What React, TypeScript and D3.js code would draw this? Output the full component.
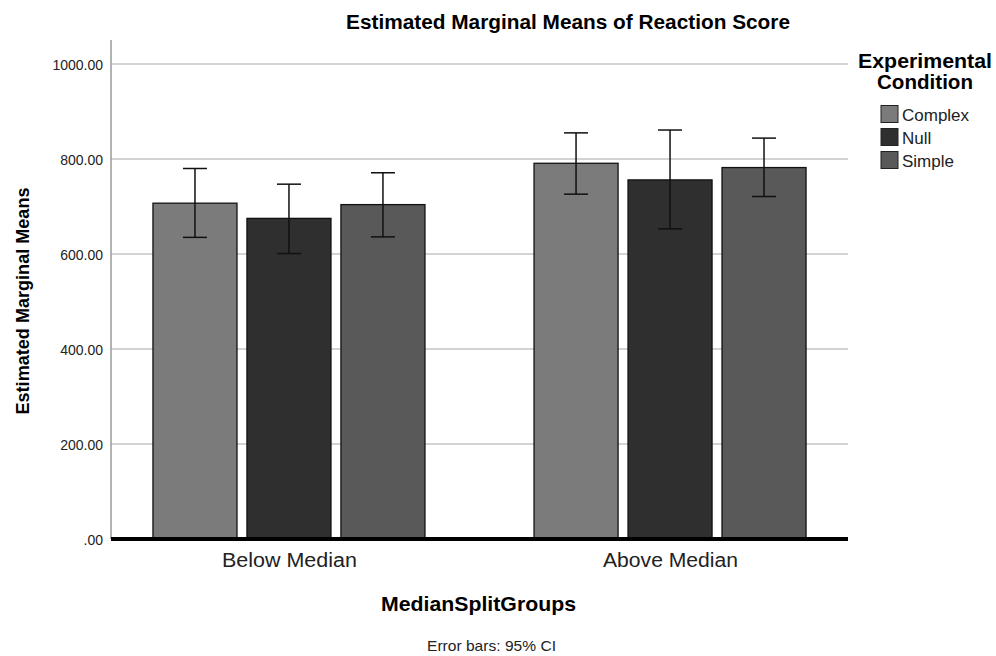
import * as d3 from "d3";

const groups = ["Below Median", "Above Median"];
const conditions = ["Complex", "Null", "Simple"];
const means = [
  [707, 675, 704],
  [791, 756, 782],
];
const ciLow = [
  [635, 601, 636],
  [726, 653, 721],
];
const ciHigh = [
  [780, 747, 771],
  [855, 861, 844],
];
const yTicks = [0, 200, 400, 600, 800, 1000];
const fills = ["#7b7b7b", "#2f2f2f", "#595959"];

const W = 996;
const H = 656;
const left = 111;
const right = 848;
const bottom = 539;
const font = "Liberation Sans, Arial, sans-serif";

const App = () => {
  const y = d3.scaleLinear().domain([0, 1000]).range([bottom, 64]);
  const x = d3.scalePoint().domain(groups).range([left, right]).padding(0.467);
  const sub = d3
    .scaleBand()
    .domain(conditions)
    .range([-136, 136])
    .paddingInner(0.106);

  const fmt = (v: number) => (v === 0 ? ".00" : v.toFixed(2));

  const rows = groups.flatMap((g, gi) =>
    conditions.map((c, ci) => ({
      g,
      c,
      ci,
      mean: means[gi][ci],
      lo: ciLow[gi][ci],
      hi: ciHigh[gi][ci],
    }))
  );

  return (
    <svg width={W} height={H} style={{ position: "absolute", left: 0, top: 0, background: "#fff" }} fontFamily={font}>
      <rect width={W} height={H} fill="#fff" />
      <text x={568} y={29} textAnchor="middle" fontSize={20} fontWeight="bold" textLength={444} lengthAdjust="spacingAndGlyphs">
        Estimated Marginal Means of Reaction Score
      </text>

      {/* grid */}
      <g className="grid">
        {yTicks.filter((t) => t > 0).map((t) => (
          <line key={t} x1={left} x2={right} y1={y(t)} y2={y(t)} stroke="#c4c4c4" strokeWidth={1.3} />
        ))}
      </g>
      <line x1={left} x2={left} y1={40} y2={bottom} stroke="#9a9a9a" strokeWidth={1.5} />

      {yTicks.map((t) => (
        <text key={t} x={103} y={y(t) + 6} textAnchor="end" fontSize={14} fill="#222">
          {fmt(t)}
        </text>
      ))}

      <g className="bars">
        {rows.map((d, i) => {
          const bx = (x(d.g) as number) + (sub(d.c) as number);
          const bw = sub.bandwidth();
          const cx = bx + bw / 2;
          return (
            <g key={i}>
              <rect
                x={bx}
                y={y(d.mean)}
                width={bw}
                height={bottom - y(d.mean)}
                fill={fills[d.ci]}
                stroke="#111"
                strokeWidth={1.3}
              />
              <line x1={cx} x2={cx} y1={y(d.hi)} y2={y(d.lo)} stroke="#111" strokeWidth={1.5} />
              <line x1={cx - 12} x2={cx + 12} y1={y(d.hi)} y2={y(d.hi)} stroke="#111" strokeWidth={1.5} />
              <line x1={cx - 12} x2={cx + 12} y1={y(d.lo)} y2={y(d.lo)} stroke="#111" strokeWidth={1.5} />
            </g>
          );
        })}
      </g>

      <line x1={left} x2={right} y1={bottom} y2={bottom} stroke="#000" strokeWidth={4} />

      {groups.map((g) => (
        <text key={g} x={(x(g) as number) + 0.5} y={567} textAnchor="middle" fontSize={20} fill="#222" textLength={135} lengthAdjust="spacingAndGlyphs">
          {g}
        </text>
      ))}

      <text
        transform={`translate(29,${301}) rotate(-90)`}
        textAnchor="middle"
        fontSize={18}
        fontWeight="bold"
        textLength={227}
        lengthAdjust="spacingAndGlyphs"
      >
        Estimated Marginal Means
      </text>

      <text x={478.5} y={611} textAnchor="middle" fontSize={21} fontWeight="bold" textLength={195} lengthAdjust="spacingAndGlyphs">
        MedianSplitGroups
      </text>
      <text x={491.5} y={651} textAnchor="middle" fontSize={15} fill="#222" textLength={129} lengthAdjust="spacingAndGlyphs">
        Error bars: 95% CI
      </text>

      <g className="legend">
        <text x={925} y={67.7} textAnchor="middle" fontSize={20} fontWeight="bold" textLength={134} lengthAdjust="spacingAndGlyphs">
          Experimental
        </text>
        <text x={925} y={89.3} textAnchor="middle" fontSize={20} fontWeight="bold" textLength={96} lengthAdjust="spacingAndGlyphs">
          Condition
        </text>
        {conditions.map((c, i) => (
          <g key={c} transform={`translate(881,${105.5 + i * 23})`}>
            <rect width={17} height={17} fill={fills[i]} stroke="#222" strokeWidth={1} />
            <text x={21} y={15} fontSize={17} fill="#222">
              {c}
            </text>
          </g>
        ))}
      </g>
    </svg>
  );
};

export default App;
